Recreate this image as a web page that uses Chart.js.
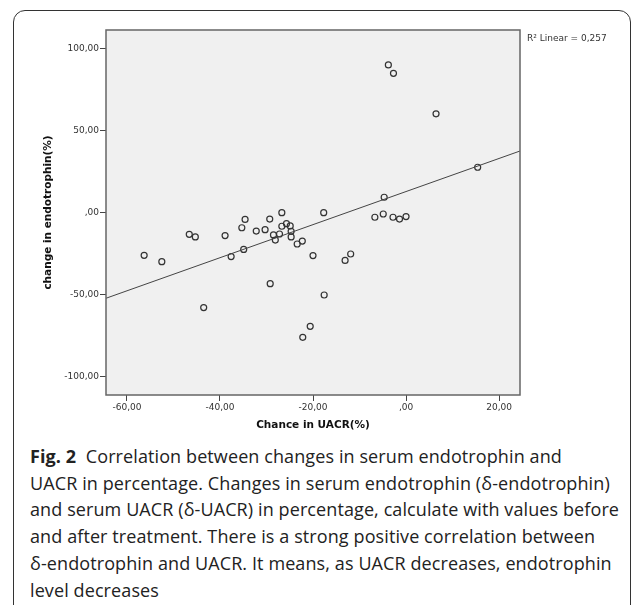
<!DOCTYPE html>
<html>
<head>
<meta charset="utf-8">
<script src="https://cdn.jsdelivr.net/npm/chart.js@4"></script>
<style>
  html, body { margin: 0; padding: 0; background: #fff; }
  body { width: 638px; height: 605px; position: relative; overflow: hidden; }
  #frame {
    position: absolute; left: 13px; top: 10px; width: 618px; height: 700px;
    border: 1.5px solid #333; border-radius: 12px; box-sizing: border-box;
  }
  #wrap { position: absolute; left: 0; top: 0; width: 638px; height: 440px; }
  #fitLabel {
    position: absolute; left: 527px; top: 33px;
    font: 9px "DejaVu Sans", sans-serif; color: #333; white-space: nowrap;
  }
  #caption {
    position: absolute; left: 30px; top: 443px; width: 605px;
    font: 18px "Open Sans", sans-serif; line-height: 26.7px; color: #222;
    white-space: nowrap; letter-spacing: 0.1px;
  }
  #caption b { font-weight: 700; }
</style>
</head>
<body>
<div id="frame"></div>
<div id="wrap"><canvas id="scatter"></canvas></div>
<div id="fitLabel">R² Linear = 0,257</div>
<div id="caption"><b>Fig. 2</b>&nbsp; Correlation between changes in serum endotrophin and<br>UACR in percentage. Changes in serum endotrophin (δ-endotrophin)<br>and serum UACR (δ-UACR) in percentage, calculate with values before<br>and after treatment. There is a strong positive correlation between<br>δ-endotrophin and UACR. It means, as UACR decreases, endotrophin<br>level decreases</div>
<script>
// change in UACR (%) and change in endotrophin (%)
const uacrChange = [
  -56.3, -52.5, -46.6, -45.3, -43.5, -38.9, -37.6, -35.3, -34.6, -34.9,
  -32.2, -30.3, -29.3, -29.2, -28.5, -28.1, -27.2, -26.7, -26.7, -25.7,
  -24.9, -24.7, -24.7, -23.4, -22.3, -20.0, -20.6, -22.2, -17.7, -17.6,
  -13.1, -11.9, -6.7, -4.9, -4.7, -2.8, -1.4, 0.0, -3.8, -2.7,
  6.45, 15.4
];
const endoChange = [
  -26.1, -30.0, -13.3, -14.9, -58.0, -14.1, -26.9, -9.3, -4.2, -22.5,
  -11.3, -10.5, -4.0, -43.4, -13.7, -16.8, -13.1, -0.1, -8.4, -6.8,
  -8.2, -11.5, -14.9, -19.2, -17.4, -26.3, -69.4, -76.1, -0.1, -50.3,
  -29.2, -25.3, -2.9, -0.9, 9.3, -2.9, -4.0, -2.5, 90.0, 84.9,
  60.2, 27.6
];

// linear fit line end points
const fitX = [-64.5, 24.5];
const fitY = [-52.3, 37.5];

const xTicks = [-60, -40, -20, 0, 20];
const yTicks = [-100, -50, 0, 50, 100];

function fmt(v) {
  if (v === 0) return ",00";
  return v.toFixed(2).replace(".", ",");
}

const plotBox = {
  id: "plotBox",
  beforeDatasetsDraw(chart) {
    const { ctx, chartArea: a } = chart;
    ctx.save();
    ctx.fillStyle = "#f0f0f0";
    ctx.fillRect(a.left, a.top, a.right - a.left, a.bottom - a.top);
    ctx.restore();
  },
  afterDraw(chart) {
    const { ctx, chartArea: a } = chart;
    ctx.save();
    ctx.strokeStyle = "#666";
    ctx.lineWidth = 1.5;
    ctx.strokeRect(a.left, a.top, a.right - a.left, a.bottom - a.top);
    ctx.restore();
  },
};

const tickFont = { family: "DejaVu Sans", size: 9 };
const titleFont = { family: "DejaVu Sans", size: 10.5, weight: "bold" };

new Chart(document.getElementById("scatter"), {
  type: "scatter",
  data: {
    datasets: [
      {
        type: "line",
        data: fitX.map((x, i) => ({ x: x, y: fitY[i] })),
        borderColor: "#444",
        borderWidth: 1,
        pointRadius: 0,
        fill: false,
      },
      {
        data: uacrChange.map((x, i) => ({ x: x, y: endoChange[i] })),
        pointRadius: 3,
        pointBorderWidth: 1.2,
        borderColor: "#333",
        backgroundColor: "rgba(0,0,0,0)",
      },
    ],
  },
  options: {
    responsive: true,
    maintainAspectRatio: false,
    animation: false,
    layout: { padding: { left: 0, right: 118, top: 30, bottom: 0 } },
    plugins: { legend: { display: false }, tooltip: { enabled: false } },
    scales: {
      x: {
        type: "linear",
        min: -64.5,
        max: 24.5,
        afterBuildTicks: (s) => { s.ticks = xTicks.map((v) => ({ value: v })); },
        afterFit: (s) => { s.height = 45; },
        border: { display: false },
        grid: { drawOnChartArea: false, drawTicks: true, tickLength: 6, color: "#444" },
        ticks: { font: tickFont, color: "#333", padding: 1, maxRotation: 0, callback: (v) => fmt(v) },
        title: { display: true, text: "Chance in UACR(%)", font: titleFont, color: "#111", padding: { top: 4, bottom: 8 } },
      },
      y: {
        type: "linear",
        min: -111.3,
        max: 111.3,
        afterBuildTicks: (s) => { s.ticks = yTicks.map((v) => ({ value: v })); },
        afterFit: (s) => { s.width = 106; },
        border: { display: false },
        grid: { drawOnChartArea: false, drawTicks: true, tickLength: 6, color: "#444" },
        ticks: { font: tickFont, color: "#333", padding: 1, callback: (v) => fmt(v) },
        title: { display: true, text: "change in endotrophin(%)", font: titleFont, color: "#111", padding: { top: 42, bottom: 0 } },
      },
    },
  },
  plugins: [plotBox],
});
</script>
</body>
</html>
